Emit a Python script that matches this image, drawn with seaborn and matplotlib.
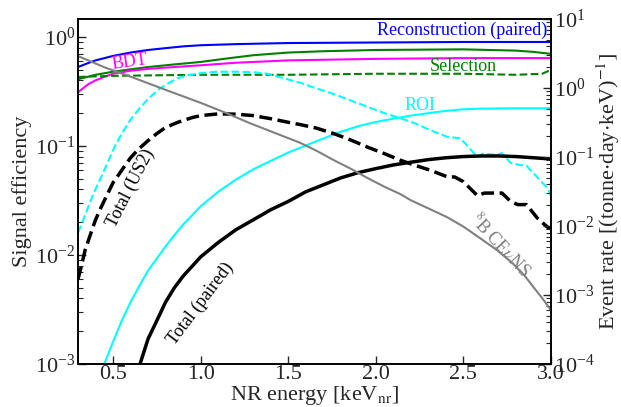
import matplotlib
matplotlib.use("Agg")
import matplotlib.pyplot as plt
import seaborn as sns
import numpy as np
from matplotlib.ticker import LogLocator, NullFormatter, FixedLocator

sns.set_theme(style="ticks")
plt.rcParams["font.family"] = ["Liberation Serif", "DejaVu Serif"]
plt.rcParams["mathtext.fontset"] = "stix"

# ---------------- data ----------------
recon_x = [0.3, 0.35, 0.4, 0.5, 0.6, 0.7, 0.8, 0.9, 1.0, 1.2, 1.5, 2.0, 2.5, 3.0]
recon_y = [0.53, 0.57, 0.61, 0.67, 0.72, 0.76, 0.79, 0.82, 0.84, 0.86, 0.88, 0.89, 0.90, 0.90]

sel_x = [0.3, 0.4, 0.5, 0.6, 0.7, 0.8, 0.9, 1.0, 1.1, 1.2, 1.3, 1.4, 1.5, 1.7, 2.0,
         2.5, 2.8, 2.9, 3.0]
sel_y = [0.41, 0.45, 0.48, 0.505, 0.53, 0.55, 0.57, 0.59, 0.62, 0.65, 0.68, 0.70, 0.72,
         0.74, 0.76, 0.77, 0.75, 0.73, 0.70]

bdt_x = [0.3, 0.33, 0.36, 0.4, 0.45, 0.5, 0.6, 0.7, 0.85, 1.0, 1.2, 1.5, 2.0, 2.5, 3.0]
bdt_y = [0.31, 0.34, 0.37, 0.40, 0.43, 0.46, 0.49, 0.51, 0.53, 0.55, 0.58, 0.61, 0.63,
         0.64, 0.64]

sel2_x = [0.3, 0.5, 1.0, 1.5, 2.0, 2.5, 2.8, 2.95, 3.0]
sel2_y = [0.43, 0.44, 0.45, 0.45, 0.46, 0.46, 0.45, 0.46, 0.50]

roi2_x = [0.30, 0.33, 0.36, 0.39, 0.42, 0.45, 0.48, 0.51, 0.55, 0.6, 0.65, 0.7, 0.76,
          0.82, 0.87, 0.93, 1.0, 1.09, 1.2, 1.3, 1.38, 1.47, 1.57, 1.68, 1.76, 1.86,
          1.95, 2.05, 2.14, 2.23, 2.31, 2.41, 2.48, 2.52, 2.58, 2.61, 2.69, 2.72, 2.77,
          2.82, 2.86, 2.92, 2.98, 3.0]
roi2_y = [0.016, 0.021, 0.028, 0.037, 0.047, 0.06, 0.077, 0.099, 0.13, 0.175, 0.22,
          0.27, 0.33, 0.38, 0.42, 0.445, 0.465, 0.48, 0.48, 0.475, 0.46, 0.42, 0.38,
          0.33, 0.30, 0.26, 0.23, 0.20, 0.18, 0.16, 0.14, 0.121, 0.118, 0.102, 0.079,
          0.085, 0.083, 0.086, 0.07, 0.067, 0.066, 0.052, 0.041, 0.035]

roi_x = [0.42, 0.45, 0.5, 0.55, 0.6, 0.65, 0.7, 0.75, 0.8, 0.85, 0.9, 0.95, 1.0, 1.1,
         1.2, 1.3, 1.4, 1.5, 1.6, 1.7, 1.8, 1.9, 2.0, 2.1, 2.2, 2.3, 2.4, 2.5, 2.6,
         2.8, 3.0]
roi_y = [0.0007, 0.001, 0.0016, 0.0025, 0.0037, 0.0052, 0.0072, 0.0093, 0.012, 0.0152,
         0.019, 0.023, 0.028, 0.038, 0.049, 0.061, 0.073, 0.087, 0.101, 0.117, 0.135,
         0.152, 0.166, 0.178, 0.19, 0.20, 0.21, 0.217, 0.22, 0.222, 0.222]

tot2_x = [0.30, 0.32, 0.34, 0.36, 0.38, 0.40, 0.43, 0.46, 0.5, 0.55, 0.6, 0.65, 0.7,
          0.75, 0.8, 0.87, 0.95, 1.0, 1.1, 1.2, 1.3, 1.4, 1.5, 1.57, 1.66, 1.76, 1.86,
          1.95, 2.05, 2.14, 2.23, 2.31, 2.41, 2.45, 2.50, 2.58, 2.62, 2.72, 2.77, 2.81,
          2.86, 2.92, 2.98, 3.0]
tot2_y = [0.006, 0.008, 0.011, 0.0137, 0.017, 0.021, 0.027, 0.034, 0.046, 0.06, 0.078,
          0.095, 0.112, 0.13, 0.148, 0.165, 0.182, 0.19, 0.197, 0.196, 0.19, 0.178,
          0.165, 0.157, 0.146, 0.13, 0.113, 0.098, 0.085, 0.074, 0.066, 0.060, 0.052,
          0.052, 0.047, 0.035, 0.037, 0.037, 0.031, 0.029, 0.029, 0.022, 0.018, 0.0175]

tot_x = [0.62, 0.654, 0.7, 0.75, 0.8, 0.85, 0.9, 1.0, 1.1, 1.2, 1.3, 1.4, 1.5, 1.6,
         1.7, 1.8, 1.9, 2.0, 2.1, 2.2, 2.3, 2.4, 2.5, 2.6, 2.7, 2.8, 2.9, 3.0]
tot_y = [0.0007, 0.001, 0.0017, 0.0025, 0.0037, 0.005, 0.0064, 0.0096, 0.013, 0.017,
         0.021, 0.026, 0.031, 0.038, 0.044, 0.051, 0.057, 0.062, 0.067, 0.071, 0.075,
         0.078, 0.080, 0.081, 0.081, 0.080, 0.078, 0.076]

cevns_x = [0.3, 0.45, 0.61, 0.8, 1.0, 1.14, 1.28, 1.43, 1.57, 1.67, 1.76, 1.86, 1.95,
           2.05, 2.14, 2.2, 2.3, 2.41, 2.5, 2.59, 2.69, 2.78, 2.85, 2.9, 2.95, 3.0]
cevns_y = [2.9, 2.0, 1.43, 0.94, 0.61, 0.44, 0.31, 0.22, 0.16, 0.12, 0.09, 0.067, 0.05,
           0.037, 0.029, 0.0236, 0.018, 0.0133, 0.0098, 0.0068, 0.0045, 0.0029, 0.0019,
           0.0013, 0.0009, 0.0006]

# ---------------- figure ----------------
fig = plt.figure(figsize=(6.21, 4.07), dpi=100)
ax = fig.add_axes([78 / 621, 43 / 407, 473 / 621, 345 / 407])
ax2 = ax.twinx()

def line(a, x, y, color, lw, ls="-"):
    sns.lineplot(x=x, y=y, ax=a, color=color, lw=lw, linestyle=ls,
                 estimator=None, sort=False)

line(ax, recon_x, recon_y, "#0000ff", 1.5)
line(ax, sel_x, sel_y, "#008000", 1.5)
line(ax, bdt_x, bdt_y, "#ff00ff", 1.5)
line(ax, sel2_x, sel2_y, "#008000", 1.5, "--")
line(ax, roi2_x, roi2_y, "#00ffff", 1.5, "--")
line(ax, roi_x, roi_y, "#00ffff", 1.5)
line(ax, tot2_x, tot2_y, "black", 2.5, "--")
line(ax, tot_x, tot_y, "black", 2.5)
line(ax2, cevns_x, cevns_y, "gray", 1.5)

ax.set_yscale("log")
ax2.set_yscale("log")
ax.set_xlim(0.3, 3.0)
ax.set_ylim(1e-3, 10 ** 0.165)
ax2.set_ylim(1e-4, 10)

fs = 16
ax.set_xlabel(r"NR energy [keV$_{\rm nr}$]", fontsize=fs, labelpad=0)
ax.set_ylabel("Signal efficiency", fontsize=fs, labelpad=2)
ax2.set_ylabel(r"Event rate [(tonne$\cdot$day$\cdot$keV)$^{-1}$]", fontsize=fs,
               labelpad=0)

ax.xaxis.set_major_locator(FixedLocator([0.5, 1.0, 1.5, 2.0, 2.5, 3.0]))
ax.set_xticklabels(["0.5", "1.0", "1.5", "2.0", "2.5", "3.0"])
for a in (ax, ax2):
    a.yaxis.set_major_locator(LogLocator(base=10, numticks=10))
    a.yaxis.set_minor_locator(LogLocator(base=10, subs=np.arange(2, 10), numticks=20))
    a.yaxis.set_minor_formatter(NullFormatter())
    a.tick_params(axis="both", which="major", direction="in", length=6, width=1,
                  labelsize=fs, pad=2)
    a.tick_params(axis="both", which="minor", direction="in", length=3.5, width=0.8)
    for s in a.spines.values():
        s.set_linewidth(1.2)
        s.set_color("black")
ax.tick_params(axis="x", which="major", pad=1)
ax.tick_params(axis="x", which="minor", bottom=False)
ax2.tick_params(axis="x", which="both", top=False, bottom=False)

tfs = 13
ax.text(2.49, 1.16, "Reconstruction (paired)", color="#0000ff", fontsize=tfs,
        ha="center", va="center")
ax.text(2.50, 0.54, "Selection", color="#008000", fontsize=tfs, ha="center", va="center")
ax.text(2.25, 0.233, "ROI", color="#00ffff", fontsize=tfs, ha="center", va="center")
ax.text(0.597, 0.59, "BDT", color="#ff00ff", fontsize=tfs, ha="center", va="center",
        rotation=8)
ax.text(0.60, 0.041, "Total (US2)", color="black", fontsize=tfs, ha="center",
        va="center", rotation=63)
ax.text(1.0, 0.0036, "Total (paired)", color="black", fontsize=tfs, ha="center",
        va="center", rotation=53)
ax2.text(2.71, 0.0053, r"$^{8}$B CE$\nu$NS", color="gray", fontsize=tfs, ha="center",
         va="center", rotation=-47)

fig.savefig("out.png", dpi=100)
